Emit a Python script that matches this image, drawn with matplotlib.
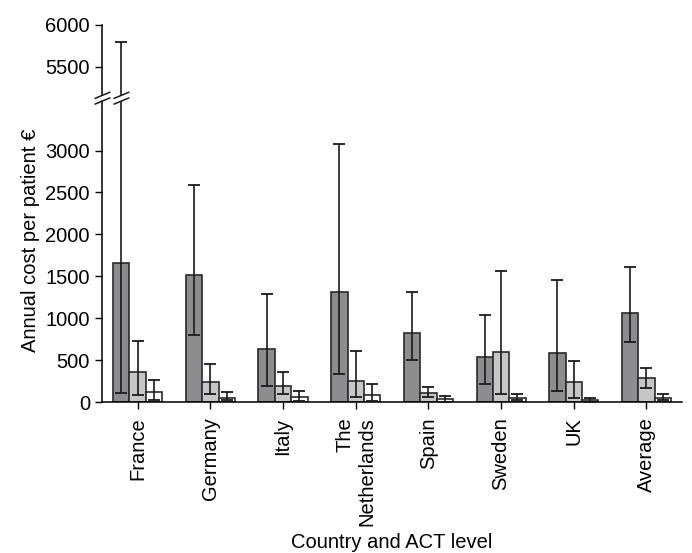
import matplotlib
matplotlib.use('Agg')
import matplotlib.pyplot as plt
import numpy as np
from matplotlib.lines import Line2D

plt.rcParams['font.family'] = ['Liberation Sans', 'DejaVu Sans']
plt.rcParams['font.size'] = 14.5

# data
countries = ['France', 'Germany', 'Italy', 'The\nNetherlands', 'Spain', 'Sweden', 'UK', 'Average']
# three ACT levels per country
mean_dark  = [1665, 1520, 640, 1310, 826, 545, 585, 1065]
lo_dark    = [115, 802, 198, 337, 500, 215, 135, 719]
hi_dark    = [5800, 2590, 1294, 3079, 1318, 1044, 1461, 1609]
mean_light = [358, 238, 191, 258, 115, 596, 242, 286]
lo_light   = [87, 95, 95, 67, 67, 95, 55, 174]
hi_light   = [731, 460, 361, 611, 182, 1565, 496, 412]
mean_white = [119, 55, 60, 91, 36, 48, 24, 55]
lo_white   = [27, 27, 20, 19, 8, 24, 7, 24]
hi_white   = [266, 119, 130, 214, 71, 103, 55, 99]

series = [(mean_dark, lo_dark, hi_dark, '#8d8d8f'),
          (mean_light, lo_light, hi_light, '#c6c6c6'),
          (mean_white, lo_white, hi_white, '#ffffff')]

W, H = 692, 553
fig = plt.figure(figsize=(W/100, H/100), dpi=100)

left, right = 101.7/W, 682/W
top_y0, top_y1 = 1-95/H, 1-25/H
bot_y0, bot_y1 = 1-402.3/H, 1-101/H
ax_top = fig.add_axes([left, top_y0, right-left, top_y1-top_y0])
ax = fig.add_axes([left, bot_y0, right-left, bot_y1-bot_y0])

x = np.arange(len(countries))
bw = 0.225
for a in (ax, ax_top):
    for k, (m, lo, hi, col) in enumerate(series):
        m = np.array(m); lo = np.array(lo); hi = np.array(hi)
        xs = x + (k-1)*bw
        a.bar(xs, m, width=bw, color=col, edgecolor='#2a2a2a', linewidth=1.2, zorder=2)
        a.errorbar(xs, m, yerr=[m-lo, hi-m], fmt='none', ecolor='#1a1a1a',
                   elinewidth=1.2, capsize=4.5, capthick=1.3, zorder=3)
    a.set_xlim(-0.495, 7.49)
    for s in ('top', 'right'):
        a.spines[s].set_visible(False)
    a.spines['left'].set_linewidth(1.1)
    a.tick_params(axis='y', length=5, width=1.0, direction='out')

ax.set_ylim(0, 3590)
ax.set_yticks([0, 500, 1000, 1500, 2000, 2500, 3000])
ax.set_xticks(x)
ax.set_xticklabels(countries, rotation=90, ha='center', va='top', multialignment='right')
ax.tick_params(axis='x', length=5, width=1.0, pad=6)
ax.spines['bottom'].set_linewidth(1.1)
ax.set_xlabel('Country and ACT level', labelpad=5)

ax_top.set_ylim(5160, 6000)
ax_top.set_yticks([5500, 6000])
ax_top.spines['bottom'].set_visible(False)
ax_top.set_xticks([])

fig.text(31/W, 1-240/H, 'Annual cost per patient €', rotation=90,
         ha='center', va='center')

# break marks on the spine and on the France error bar
for xc in (102.5, 121.5):
    for yc in (95.3, 101.0):
        fig.add_artist(Line2D([(xc-7.2)/W, (xc+7.2)/W], [1-(yc+3.0)/H, 1-(yc-3.0)/H],
                              transform=fig.transFigure, color='#1a1a1a', lw=1.1))

fig.savefig('out.png', dpi=100)
